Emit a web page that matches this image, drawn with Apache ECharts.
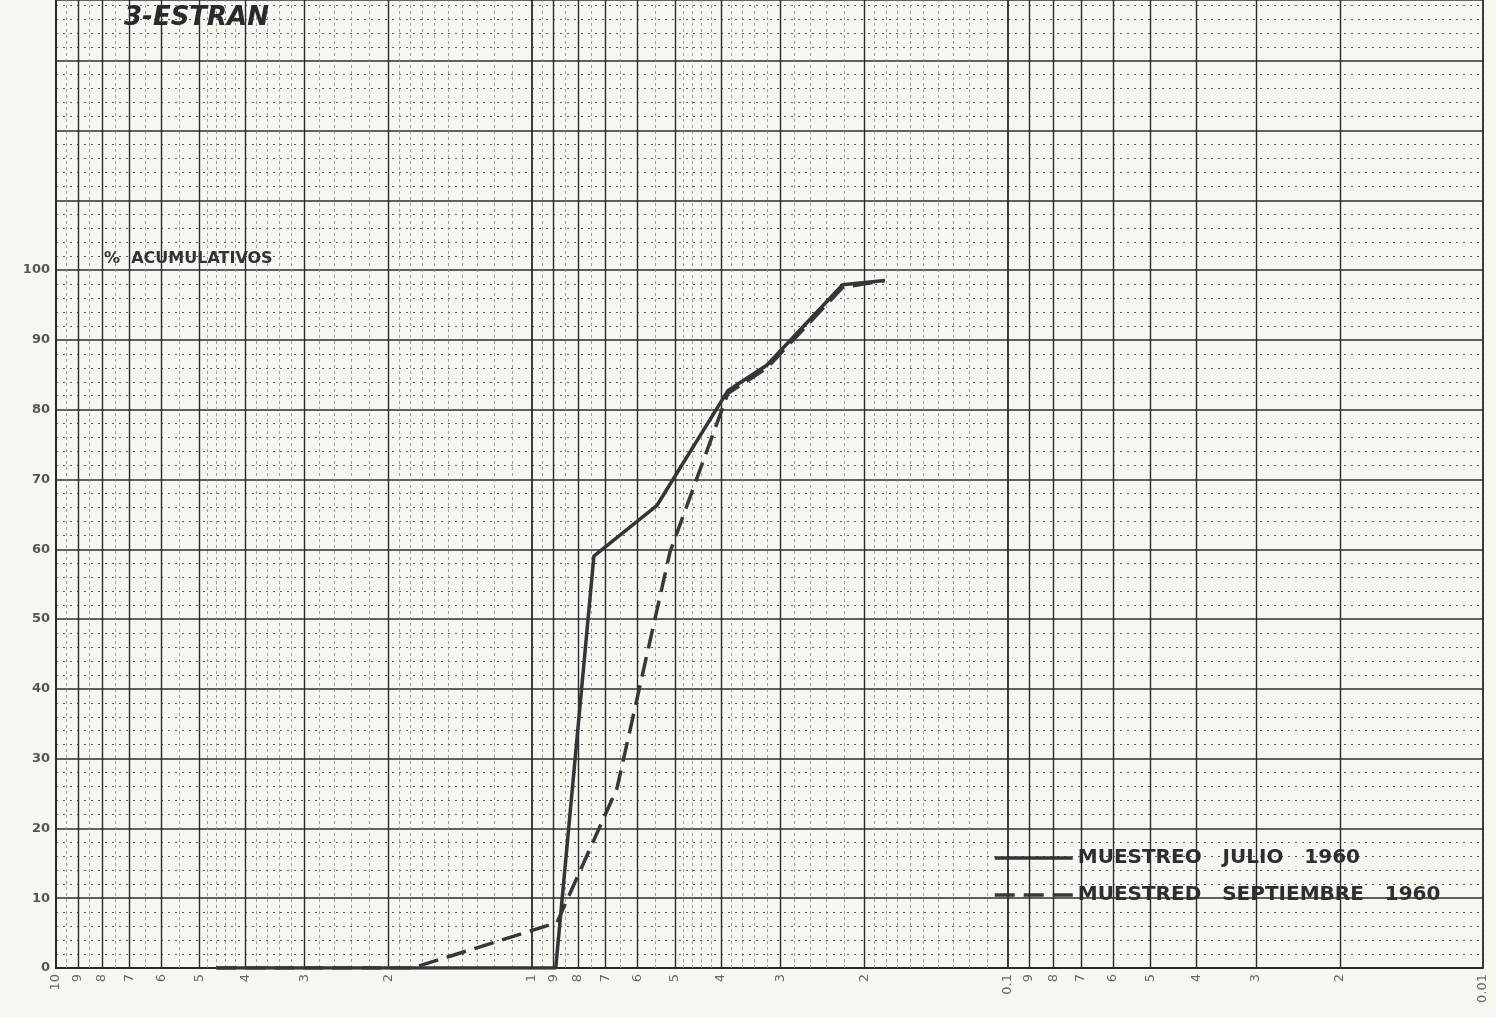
<!DOCTYPE html>
<html>
<head>
<meta charset="utf-8">
<script src="https://cdn.jsdelivr.net/npm/echarts@6/dist/echarts.min.js"></script>
<style>
html,body{margin:0;padding:0;background:#f7f6f1;}
#chart{width:1496px;height:1017px;}
</style>
</head>
<body>
<div id="chart"></div>
<script>
// Grain size (mm, log axis, decreasing to the right) vs cumulative %
const julioSize = [4.6, 0.89, 0.74, 0.545, 0.387, 0.32, 0.222, 0.181];
const julioPct  = [0,   0,    59,   66.3,  82.7,  86.4, 97.9,  98.5];
const septSize  = [4.6, 1.78, 0.885, 0.662, 0.512, 0.387, 0.32, 0.222, 0.181];
const septPct   = [0,   0,    6.5,   25.7,  59.6,  82.3,  86,   97.5,  98.5];

const seriesNames = ['MUESTREO   JULIO   1960', 'MUESTRED   SEPTIEMBRE   1960'];

// bottom tick labels of the log paper
const xTickValues = [10,9,8,7,6,5,4,3,2,1,0.9,0.8,0.7,0.6,0.5,0.4,0.3,0.2,0.1,0.09,0.08,0.07,0.06,0.05,0.04,0.03,0.02,0.01];
const xTickLabels = ['10','9','8','7','6','5','4','3','2','1','9','8','7','6','5','4','3','2','0.1','9','8','7','6','5','4','3','2','0.01'];
const decades = [0.01, 0.1, 1];
const minorMantissas = [1.1,1.2,1.3,1.4,1.5,1.6,1.7,1.8,1.9,2.2,2.4,2.6,2.8,3.2,3.4,3.6,3.8,4.2,4.4,4.6,4.8,5.5,6.5,7.5,8.5,9.5];

const yLabelMax = 100;

const chart = echarts.init(document.getElementById('chart'), null, {renderer:'canvas'});

const gridLines = [];
decades.forEach(d => {
  minorMantissas.forEach(m => {
    gridLines.push({xAxis: +(m*d).toPrecision(6), lineStyle:{color:'#8a8a8a', width:0.8, type:[3,3]}});
  });
});
xTickValues.forEach(v => {
  const isDecade = [10,1,0.1,0.01].includes(v);
  gridLines.push({xAxis: v, lineStyle:{color:'#2b2b2b', width: isDecade ? 1.8 : 1.4, type:'solid'}});
});

const option = {
  backgroundColor: '#f7f6f1',
  animation: false,
  grid: {left: 56, right: 13, top: 0, bottom: 49},
  xAxis: {
    type: 'log', logBase: 10, min: 0.01, max: 10, inverse: true,
    axisLine: {show: true, lineStyle: {color: '#2a2a2a', width: 2}},
    axisTick: {show: false}, axisLabel: {show: false},
    splitLine: {show: false}
  },
  yAxis: {
    type: 'value', min: 0, max: 138.7, interval: 10,
    axisLine: {show: true, lineStyle: {color: '#2a2a2a', width: 2}},
    axisTick: {show: false},
    axisLabel: {
      margin: 6, fontSize: 13, fontWeight: 'bold', color: '#555',
      fontFamily: 'DejaVu Sans',
      formatter: v => (v <= yLabelMax && Math.abs(v - Math.round(v)) < 1e-6) ? String(v) : ''
    },
    splitLine: {show: true, lineStyle: {color: '#2e2e2e', width: 1.5}},
    minorTick: {show: false, splitNumber: 5},
    minorSplitLine: {show: true, lineStyle: {color: '#5a5a5a', width: 1.1, type: [2, 5]}}
  },
  legend: {
    data: seriesNames,
    left: 988, top: 843, orient: 'vertical',
    itemGap: 17, itemWidth: 78, itemHeight: 16,
    itemStyle: {opacity: 0},
    lineStyle: {width: 3.5},
    textStyle: {fontSize: 20, fontWeight: 'bold', color: '#2e2e2e', fontFamily: 'DejaVu Sans'}
  },
  graphic: [
    {type: 'text', left: 124, top: 5, z: 100,
     style: {text: '3-ESTRAN', fontSize: 26, fontWeight: 'bold', fontStyle: 'italic', fontFamily: 'DejaVu Sans', fill: '#2a2a2a'}},
    {type: 'text', left: 104, top: 251, z: 100,
     style: {text: '%  ACUMULATIVOS', fontSize: 16, fontWeight: 'bold', fontFamily: 'DejaVu Sans', fill: '#333'}}
  ],
  series: [
    {
      name: 'paper', type: 'line', data: [], silent: true,
      markLine: {silent: true, symbol: ['none','none'], label: {show: false}, emphasis: {disabled: true}, animation: false, data: gridLines}
    },
    {
      name: 'ticks', type: 'scatter', silent: true, clip: false, symbolSize: 0.01,
      data: xTickValues.map((v, i) => ({value: [v, 0], label: {formatter: xTickLabels[i]}})),
      label: {show: true, position: [0, 6], align: 'right', verticalAlign: 'middle', rotate: 90,
              fontSize: 13, color: '#444', fontFamily: 'DejaVu Sans'}
    },
    {
      name: seriesNames[1], type: 'line', symbol: 'none', showSymbol: false, z: 5,
      data: septSize.map((s, i) => [s, septPct[i]]),
      lineStyle: {color: '#383838', width: 3.5, type: [20, 9]},
      itemStyle: {color: '#383838'}
    },
    {
      name: seriesNames[0], type: 'line', symbol: 'none', showSymbol: false, z: 6,
      data: julioSize.map((s, i) => [s, julioPct[i]]),
      lineStyle: {color: '#353535', width: 3.5, type: 'solid'},
      itemStyle: {color: '#353535'}
    }
  ]
};
chart.setOption(option);
</script>
</body>
</html>
